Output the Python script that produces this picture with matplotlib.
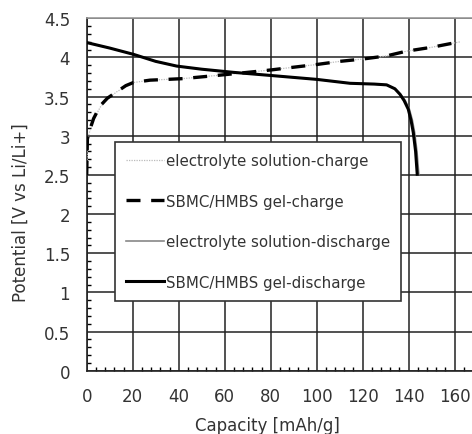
import matplotlib
matplotlib.use("Agg")
import matplotlib.pyplot as plt
from matplotlib.ticker import MultipleLocator

# Data
gel_charge_x = [0, 0.3, 1.4, 3, 5.8, 9, 13, 17, 20.3, 27.5, 35, 42, 56.5, 66.7, 80, 88.4, 100, 110, 120, 130.4, 139, 150, 157, 162.3]
gel_charge_y = [2.5, 2.96, 3.08, 3.22, 3.38, 3.48, 3.56, 3.64, 3.68, 3.71, 3.72, 3.73, 3.77, 3.8, 3.84, 3.87, 3.91, 3.95, 3.98, 4.02, 4.08, 4.13, 4.17, 4.2]

el_charge_x = [0, 0.4, 1.5, 3.2, 6, 9, 13, 17, 20.5, 27.5, 35, 42, 56.5, 66.7, 80, 88.4, 100, 110, 120, 130.4, 139, 150, 157, 162.5]
el_charge_y = [2.5, 2.95, 3.08, 3.22, 3.37, 3.47, 3.56, 3.63, 3.68, 3.71, 3.72, 3.73, 3.77, 3.8, 3.84, 3.87, 3.91, 3.95, 3.98, 4.02, 4.08, 4.13, 4.17, 4.2]

gel_dis_x = [0, 10, 20.3, 30, 39.1, 50, 63.7, 80, 100, 114.5, 125, 130.4, 134, 136.2, 138, 139.8, 141, 142, 143, 143.7]
gel_dis_y = [4.19, 4.12, 4.04, 3.95, 3.89, 3.85, 3.81, 3.77, 3.72, 3.67, 3.66, 3.65, 3.6, 3.53, 3.45, 3.34, 3.2, 3.04, 2.8, 2.51]

el_dis_x = [0, 10, 20.3, 30, 39.1, 50, 63.7, 80, 100, 114.5, 125, 130.4, 134, 136.5, 138.5, 140.3, 141.6, 142.6, 143.6, 144.4]
el_dis_y = [4.19, 4.12, 4.04, 3.95, 3.89, 3.85, 3.81, 3.77, 3.72, 3.67, 3.66, 3.65, 3.6, 3.53, 3.45, 3.34, 3.2, 3.04, 2.8, 2.51]

labels = ["electrolyte solution-charge", "SBMC/HMBS gel-charge",
          "electrolyte solution-discharge", "SBMC/HMBS gel-discharge"]

xticks = [0, 20, 40, 60, 80, 100, 120, 140, 160]
yticks = [0, 0.5, 1, 1.5, 2, 2.5, 3, 3.5, 4, 4.5]
ytick_labels = ['0', '0.5', '1', '1.5', '2', '2.5', '3', '3.5', '4', '4.5']

plt.rcParams['font.family'] = ['DejaVu Sans']

fig = plt.figure(figsize=(4.72, 4.35), dpi=100)
ax = fig.add_axes([86.7 / 472, 63.3 / 435, (472 - 86.7) / 472, (415.7 - 63.3) / 435])

ax.plot(el_charge_x, el_charge_y, color='#bbbbbb', lw=0.9, ls=(0, (1, 1)), label=labels[0], zorder=3)
ax.plot(gel_charge_x, gel_charge_y, color='black', lw=2.4, ls=(0, (4.2, 3.2)), label=labels[1], zorder=4)
ax.plot(el_dis_x, el_dis_y, color='#888888', lw=1.2, label=labels[2], zorder=3)
ax.plot(gel_dis_x, gel_dis_y, color='black', lw=2.2, label=labels[3], zorder=4)

ax.set_xlim(0, (472 - 86.7) / 2.3)
ax.set_ylim(0, 4.5)
ax.set_xticks(xticks)
ax.set_yticks(yticks)
ax.set_xticklabels([str(v) for v in xticks])
ax.set_yticklabels(ytick_labels)
ax.xaxis.set_minor_locator(MultipleLocator(4))
ax.yaxis.set_minor_locator(MultipleLocator(0.1))
ax.tick_params(which='both', direction='in', colors='black', labelcolor='#333333', labelsize=12)
ax.tick_params(which='major', length=0, pad=12)
ax.tick_params(which='minor', length=3, width=1)

ax.grid(True, which='major', color='#222222', lw=1.1)
ax.set_axisbelow(True)
for s in ['left', 'bottom']:
    ax.spines[s].set_color('#222222')
    ax.spines[s].set_linewidth(1.2)
ax.spines['right'].set_visible(False)
ax.spines['top'].set_color('#999999')
ax.spines['top'].set_linewidth(1.2)

ax.set_xlabel('Capacity [mAh/g]', fontsize=12, color='#333333')
ax.set_ylabel('Potential [V vs Li/Li+]', fontsize=12, color='#333333')
ax.xaxis.set_label_coords(0.468, -0.128)
ax.yaxis.set_label_coords(-0.147, 0.45)

leg = ax.legend(loc='upper left', bbox_to_anchor=(0.0734, 0.649), fontsize=10.8,
                frameon=True, fancybox=False, edgecolor='#333333', framealpha=1,
                labelspacing=1.7, handlelength=2.5, handletextpad=0.15,
                borderpad=0.75, borderaxespad=0)
leg.get_frame().set_linewidth(1.2)
for t in leg.get_texts():
    t.set_color('#333333')

fig.savefig('out.png', dpi=100)
